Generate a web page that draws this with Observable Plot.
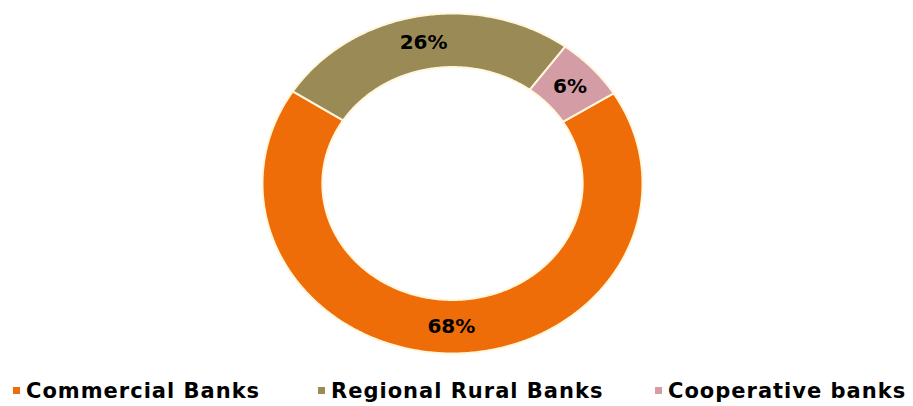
<!DOCTYPE html>
<html>
<head>
<meta charset="utf-8">
<script src="https://cdn.jsdelivr.net/npm/d3@7"></script>
<script src="https://cdn.jsdelivr.net/npm/@observablehq/plot@0.6"></script>
<style>
  html, body { margin: 0; padding: 0; background: #ffffff; }
  #wrap { position: relative; width: 913px; height: 406px; overflow: hidden; font-family: "DejaVu Sans", Verdana, sans-serif; }
  #chart { position: absolute; left: 0; top: 0; }
  .lg { position: absolute; top: 379px; font-weight: bold; font-size: 21px; letter-spacing: 1px; color: #000; white-space: nowrap; line-height: 24px; }
  .lg i { display: inline-block; width: 7px; height: 7px; margin-right: 6px; vertical-align: middle; position: relative; top: -2px; }
</style>
</head>
<body>
<div id="wrap">
  <div id="chart"></div>
</div>
<script>
// ---- data ----
const categories = ["Commercial Banks", "Regional Rural Banks", "Cooperative banks"];
const shares = [68, 26, 6];
const labels = ["68%", "26%", "6%"];
const colors = ["#EF6D09", "#9A8B56", "#D49CA4"];
const legendLeft = [13, 318, 655];

const rows = categories.map((c, i) => ({category: c, share: shares[i], label: labels[i]}));

const innerR = 0.685;
const start = 58 * Math.PI / 180;
const arcs = d3.pie().sort(null).value(d => d.share)
  .startAngle(start).endAngle(start + 2 * Math.PI)(rows);

// ring polygons derived from the pie angles
const pts = [];
for (const a of arcs) {
  const n = Math.max(8, Math.ceil((a.endAngle - a.startAngle) / 0.01));
  const ring = [];
  for (let k = 0; k <= n; k++) {
    const t = a.startAngle + (a.endAngle - a.startAngle) * k / n;
    ring.push({x: Math.sin(t), y: Math.cos(t)});
  }
  for (let k = n; k >= 0; k--) {
    const t = a.startAngle + (a.endAngle - a.startAngle) * k / n;
    ring.push({x: innerR * Math.sin(t), y: innerR * Math.cos(t)});
  }
  ring.push(ring[0]);
  for (const p of ring) pts.push({...p, category: a.data.category});
}

const mid = (1 + innerR) / 2;
const labelPts = arcs.map(a => {
  const t = (a.startAngle + a.endAngle) / 2;
  return {x: mid * Math.sin(t), y: mid * Math.cos(t), label: a.data.label};
});

const chart = Plot.plot({
  width: 913,
  height: 370,
  marginLeft: 262,
  marginRight: 271,
  marginTop: 13,
  marginBottom: 17,
  style: {background: "transparent", fontFamily: "'DejaVu Sans', Verdana, sans-serif"},
  x: {domain: [-1, 1], axis: null},
  y: {domain: [-1, 1], axis: null},
  color: {domain: categories, range: colors},
  marks: [
    Plot.line(pts, {x: "x", y: "y", z: "category", fill: "category", stroke: "#FFF6DC", strokeWidth: 2, curve: "linear"}),
    Plot.text(labelPts, {x: "x", y: "y", text: "label", fill: "#000", fontSize: 20, fontWeight: "bold", letterSpacing: 2})
  ]
});
document.getElementById("chart").appendChild(chart);

// legend
const wrap = document.getElementById("wrap");
categories.forEach((c, i) => {
  const el = document.createElement("div");
  el.className = "lg";
  el.style.left = legendLeft[i] + "px";
  const sw = document.createElement("i");
  sw.style.background = colors[i];
  el.appendChild(sw);
  el.appendChild(document.createTextNode(c));
  wrap.appendChild(el);
});
</script>
</body>
</html>
